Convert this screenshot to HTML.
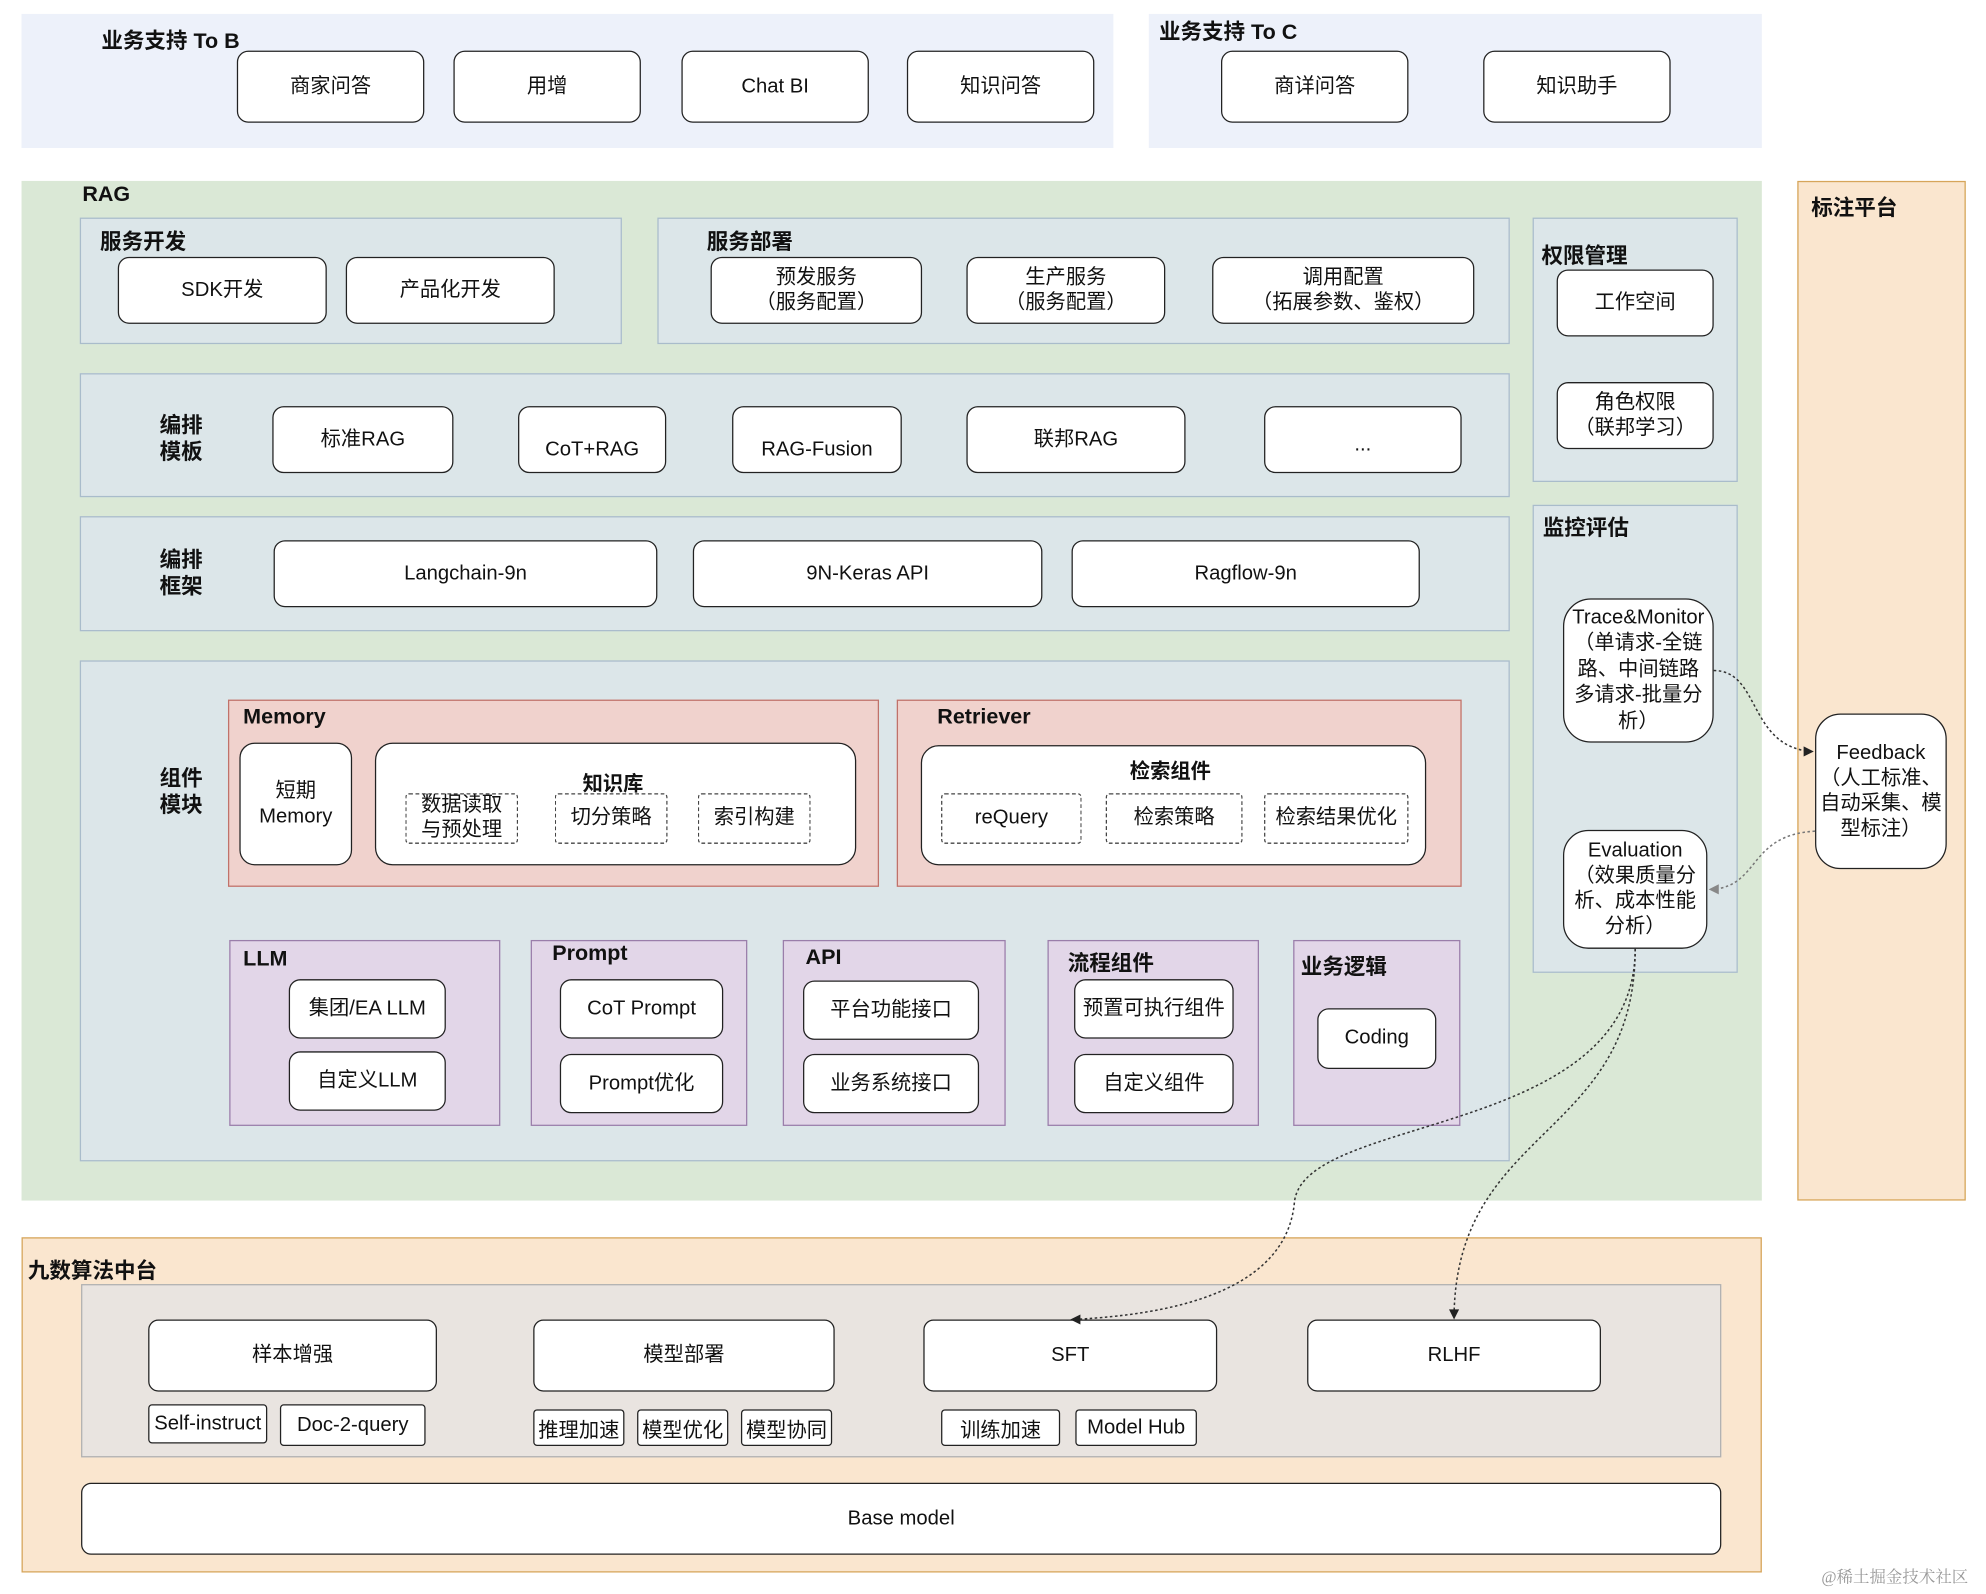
<!DOCTYPE html>
<html><head><meta charset="utf-8"><style>
html,body{margin:0;padding:0;width:1986px;height:1594px;overflow:hidden;background:#fff}
#c{position:absolute;left:0;top:0;width:1568px;height:1260px;transform:scale(1.2666,1.2651);transform-origin:0 0;font-family:"Liberation Sans","Noto Sans CJK SC",sans-serif;color:#111}
.a{position:absolute;box-sizing:border-box}
.b{position:absolute;box-sizing:border-box;background:#fff;border:1.3px solid #222;border-radius:9px;display:flex;align-items:center;justify-content:center;text-align:center;font-size:16px;line-height:20px}
.d{position:absolute;box-sizing:border-box;background:#fff;border:1px dashed #444;border-radius:3px;display:flex;align-items:center;justify-content:center;text-align:center;font-size:16px;line-height:20px}
.s{position:absolute;box-sizing:border-box;background:#fff;border:1.2px solid #222;border-radius:3px;display:flex;align-items:center;justify-content:center;font-size:16px}
.t{position:absolute;font-weight:bold;font-size:17px;white-space:nowrap}
.p{background:#dce6e9;border:1.2px solid #a9bccb}
.r{background:#f0d2cd;border:1.2px solid #c0726a}
.v{background:#e2d6e8;border:1.2px solid #9a7eaa}
.nw{white-space:nowrap}
</style></head><body><div id="c">
<div class="a" style="left:17px;top:11px;width:862px;height:106px;background:#edf1fa"></div>
<div class="a" style="left:907px;top:11px;width:484px;height:106px;background:#edf1fa"></div>
<div class="t" style="left:80px;top:18px">业务支持 To B</div>
<div class="t" style="left:915px;top:11px">业务支持 To C</div>
<div class="b" style="left:187px;top:40px;width:148px;height:57px">商家问答</div>
<div class="b" style="left:358px;top:40px;width:148px;height:57px">用增</div>
<div class="b" style="left:538px;top:40px;width:148px;height:57px">Chat BI</div>
<div class="b" style="left:716px;top:40px;width:148px;height:57px">知识问答</div>
<div class="b" style="left:964px;top:40px;width:148px;height:57px">商详问答</div>
<div class="b" style="left:1171px;top:40px;width:148px;height:57px">知识助手</div>
<div class="a" style="left:17px;top:143px;width:1374px;height:806px;background:#dae8d6"></div>
<div class="t" style="left:65px;top:144px">RAG</div>
<div class="a" style="left:1419px;top:143px;width:133px;height:806px;background:#fae6cf;border:1.2px solid #d6a55a"></div>
<div class="t" style="left:1430px;top:150px">标注平台</div>
<div class="a p" style="left:63px;top:172px;width:428px;height:100px"></div>
<div class="t" style="left:79px;top:177px">服务开发</div>
<div class="b" style="left:93px;top:203px;width:165px;height:53px">SDK开发</div>
<div class="b" style="left:273px;top:203px;width:165px;height:53px">产品化开发</div>
<div class="a p" style="left:519px;top:172px;width:673px;height:100px"></div>
<div class="t" style="left:558px;top:177px">服务部署</div>
<div class="b" style="left:561px;top:203px;width:167px;height:53px">预发服务<br>（服务配置）</div>
<div class="b" style="left:763px;top:203px;width:157px;height:53px">生产服务<br>（服务配置）</div>
<div class="b" style="left:957px;top:203px;width:207px;height:53px">调用配置<br>（拓展参数、鉴权）</div>
<div class="a p" style="left:1210px;top:172px;width:162px;height:209px"></div>
<div class="t" style="left:1217px;top:188px">权限管理</div>
<div class="b" style="left:1229px;top:213px;width:124px;height:53px">工作空间</div>
<div class="b" style="left:1229px;top:302px;width:124px;height:53px">角色权限<br>（联邦学习）</div>
<div class="a p" style="left:1210px;top:399px;width:162px;height:370px"></div>
<div class="t" style="left:1218px;top:403px">监控评估</div>
<div class="b nw" style="left:1234px;top:473px;width:119px;height:114px;border-radius:22px;line-height:20.5px">Trace&amp;Monitor<br>（单请求-全链<br>路、中间链路<br>多请求-批量分<br>析）</div>
<div class="b nw" style="left:1234px;top:656px;width:114px;height:94px;border-radius:20px">Evaluation<br>（效果质量分<br>析、成本性能<br>分析）</div>
<div class="b nw" style="left:1433px;top:564px;width:104px;height:123px;border-radius:20px">Feedback<br>（人工标准、<br>自动采集、模<br>型标注）</div>
<div class="a p" style="left:63px;top:295px;width:1129px;height:98px"></div>
<div class="t" style="left:126px;top:326px;line-height:21px">编排<br>模板</div>
<div class="b" style="left:215px;top:321px;width:143px;height:53px">标准RAG</div>
<div class="b" style="left:409px;top:321px;width:117px;height:53px;padding-top:16px">CoT+RAG</div>
<div class="b" style="left:578px;top:321px;width:134px;height:53px;padding-top:16px">RAG-Fusion</div>
<div class="b" style="left:763px;top:321px;width:173px;height:53px">联邦RAG</div>
<div class="b" style="left:998px;top:321px;width:156px;height:53px;padding-top:8px">...</div>
<div class="a p" style="left:63px;top:408px;width:1129px;height:91px"></div>
<div class="t" style="left:126px;top:432px;line-height:21px">编排<br>框架</div>
<div class="b" style="left:216px;top:427px;width:303px;height:53px">Langchain-9n</div>
<div class="b" style="left:547px;top:427px;width:276px;height:53px">9N-Keras API</div>
<div class="b" style="left:846px;top:427px;width:275px;height:53px">Ragflow-9n</div>
<div class="a p" style="left:63px;top:522px;width:1129px;height:396px"></div>
<div class="t" style="left:126px;top:605px;line-height:21px">组件<br>模块</div>
<div class="a r" style="left:180px;top:553px;width:514px;height:148px"></div>
<div class="t" style="left:192px;top:557px">Memory</div>
<div class="b" style="left:189px;top:587px;width:89px;height:97px;border-radius:12px">短期<br>Memory</div>
<div class="b" style="left:296px;top:587px;width:380px;height:97px;border-radius:14px"></div>
<div class="t" style="left:460px;top:606px;font-size:16px">知识库</div>
<div class="d" style="left:320px;top:627px;width:89px;height:40px">数据读取<br>与预处理</div>
<div class="d" style="left:438px;top:627px;width:89px;height:40px">切分策略</div>
<div class="d" style="left:551px;top:627px;width:89px;height:40px">索引构建</div>
<div class="a r" style="left:708px;top:553px;width:446px;height:148px"></div>
<div class="t" style="left:740px;top:557px">Retriever</div>
<div class="b" style="left:727px;top:589px;width:399px;height:95px;border-radius:14px"></div>
<div class="t" style="left:892px;top:596px;font-size:16px">检索组件</div>
<div class="d" style="left:743px;top:627px;width:111px;height:40px">reQuery</div>
<div class="d" style="left:873px;top:627px;width:108px;height:40px">检索策略</div>
<div class="d" style="left:998px;top:627px;width:114px;height:40px">检索结果优化</div>
<div class="a v" style="left:181px;top:743px;width:214px;height:147px"></div>
<div class="t" style="left:192px;top:748px">LLM</div>
<div class="b" style="left:228px;top:774px;width:124px;height:47px">集团/EA LLM</div>
<div class="b" style="left:228px;top:831px;width:124px;height:47px">自定义LLM</div>
<div class="a v" style="left:419px;top:743px;width:171px;height:147px"></div>
<div class="t" style="left:436px;top:744px">Prompt</div>
<div class="b" style="left:442px;top:774px;width:129px;height:47px">CoT Prompt</div>
<div class="b" style="left:442px;top:833px;width:129px;height:47px">Prompt优化</div>
<div class="a v" style="left:618px;top:743px;width:176px;height:147px"></div>
<div class="t" style="left:636px;top:747px">API</div>
<div class="b" style="left:634px;top:775px;width:139px;height:47px">平台功能接口</div>
<div class="b" style="left:634px;top:833px;width:139px;height:47px">业务系统接口</div>
<div class="a v" style="left:827px;top:743px;width:167px;height:147px"></div>
<div class="t" style="left:843px;top:747px">流程组件</div>
<div class="b" style="left:848px;top:774px;width:126px;height:47px">预置可执行组件</div>
<div class="b" style="left:848px;top:833px;width:126px;height:47px">自定义组件</div>
<div class="a v" style="left:1021px;top:743px;width:132px;height:147px"></div>
<div class="t" style="left:1027px;top:750px">业务逻辑</div>
<div class="b" style="left:1040px;top:797px;width:94px;height:48px">Coding</div>
<div class="a" style="left:17px;top:978px;width:1374px;height:265px;background:#fae6cf;border:1.2px solid #d6a55a"></div>
<div class="t" style="left:22px;top:990px">九数算法中台</div>
<div class="a" style="left:64px;top:1015px;width:1295px;height:137px;background:#e9e4e0;border:1.2px solid #b0b0b0"></div>
<div class="b" style="left:117px;top:1043px;width:228px;height:57px;border-radius:8px">样本增强</div>
<div class="b" style="left:421px;top:1043px;width:238px;height:57px;border-radius:8px">模型部署</div>
<div class="b" style="left:729px;top:1043px;width:232px;height:57px;border-radius:8px">SFT</div>
<div class="b" style="left:1032px;top:1043px;width:232px;height:57px;border-radius:8px">RLHF</div>
<div class="s" style="left:117px;top:1110px;width:94px;height:31px">Self-instruct</div>
<div class="s" style="left:221px;top:1110px;width:115px;height:33px">Doc-2-query</div>
<div class="s" style="left:421px;top:1114px;width:72px;height:29px">推理加速</div>
<div class="s" style="left:503px;top:1114px;width:72px;height:29px">模型优化</div>
<div class="s" style="left:585px;top:1114px;width:72px;height:29px">模型协同</div>
<div class="s" style="left:743px;top:1114px;width:94px;height:29px">训练加速</div>
<div class="s" style="left:849px;top:1114px;width:96px;height:29px">Model Hub</div>
<div class="b" style="left:64px;top:1172px;width:1295px;height:57px;border-radius:8px">Base model</div>
<svg class="a" style="left:0;top:0" width="1568" height="1260">
<g fill="none" stroke="#333" stroke-width="1.2" stroke-dasharray="2,2">
<path d="M1353 530 C1390 530 1380 590 1430 594"/>
<path d="M1433 657 C1380 660 1390 700 1352 703" stroke="#777"/>
<path d="M1291 750 C1291 900 1030 880 1022 950 C1015 1030 900 1040 848 1043"/>
<path d="M1291 750 C1291 900 1150 890 1148 1040"/>
</g>
<path d="M1432 594 l-8 -4 v8z" fill="#222"/>
<path d="M1349 703 l8 -4 v8z" fill="#888"/>
<path d="M845 1043 l8 -4 v8z" fill="#222"/>
<path d="M1148 1043 l-4 -8 h8z" fill="#222"/>
</svg>
<div class="a" style="left:1438px;top:1236px;font-size:13px;color:#999;font-family:'Liberation Serif','Noto Serif CJK SC',serif">@稀土掘金技术社区</div>
</div></body></html>
